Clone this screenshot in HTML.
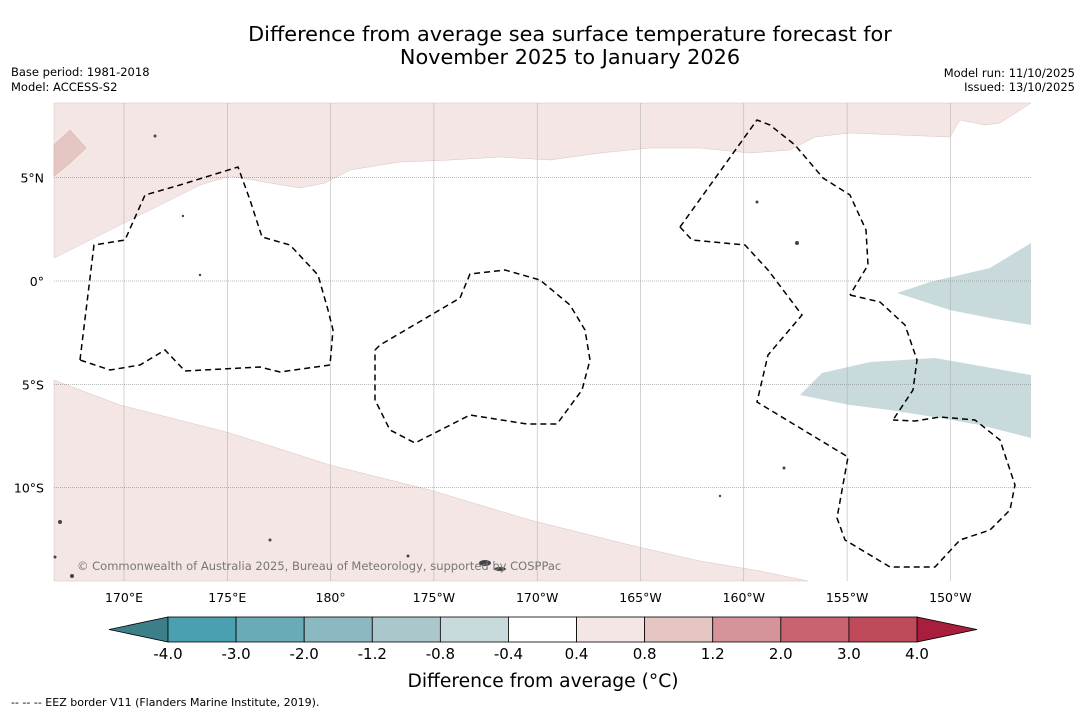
<!DOCTYPE html>
<html><head><meta charset="utf-8">
<style>
body{margin:0;background:#fff;font-family:"DejaVu Sans","Liberation Sans",sans-serif;}
#wrap{position:relative;width:1085px;height:713px;overflow:hidden;background:#fff;}
svg text{font-family:"DejaVu Sans","Liberation Sans",sans-serif;}
</style></head>
<body>
<div id="wrap">
<svg id="svg" width="1085" height="713" xmlns="http://www.w3.org/2000/svg">
<text x="570" y="41" font-size="20.8" text-anchor="middle" fill="#000">Difference from average sea surface temperature forecast for</text>
<text x="570" y="64" font-size="20.8" text-anchor="middle" fill="#000">November 2025 to January 2026</text>
<text x="11" y="76" font-size="11.5">Base period: 1981-2018</text>
<text x="11" y="91" font-size="11.5">Model: ACCESS-S2</text>
<text x="1075" y="77" font-size="11.5" text-anchor="end">Model run: 11/10/2025</text>
<text x="1075" y="91" font-size="11.5" text-anchor="end">Issued: 13/10/2025</text>

<g>
<rect x="54" y="103" width="977" height="478" fill="#fff"/>
<polygon fill="#f4e6e5" stroke="#d8c4c2" stroke-width="0.5" points="54,103 54,258 100,235 150,210 200,185 230,176 270,183 300,188 325,183 350,170 400,162 450,160 500,157 550,160 600,153 650,148 700,148 750,153 790,150 815,137 850,133 900,135 950,137 960,120 985,125 1000,123 1031,103"/>
<polygon fill="#e6c6c2" stroke="#c9a8a4" stroke-width="0.5" points="54,145 70,130 86,148 70,163 54,176"/>
<polygon fill="#f4e6e5" stroke="#d8c4c2" stroke-width="0.5" points="54,380 120,405 230,433 330,465 430,490 530,520 630,545 700,561 760,571 808,581 54,581"/>
<polygon fill="#c8dadb" points="897,293 930,282 990,268 1031,243 1031,325 990,318 950,310"/>
<polygon fill="#c8dadb" points="800,395 822,373 870,362 935,358 1031,375 1031,438 980,425 940,418 890,410 850,405"/>
</g>
<g id="grid"></g>
<g fill="none" stroke="#000" stroke-width="1.5" stroke-dasharray="6,4">
<polyline points="80,360 94,245 125,240 145,195 180,185 238,167 250,200 262,237 290,245 318,275 328,310 333,330 330,365 280,372 260,367 185,371 165,350 140,365 110,370 80,360"/>
<polyline points="375,350 380,345 460,298 470,274 505,270 540,280 570,305 585,330 590,360 582,390 557,424 527,424 470,415 415,443 390,430 375,400 375,350"/>
<polyline points="680,227 757,120 770,125 795,145 823,178 850,195 866,230 868,265 850,295"/>
<polyline points="680,227 692,240 745,245 768,270 802,315 768,355 757,402 848,457 837,518 845,540 890,567 935,567 960,540 990,530 1010,510 1015,485 1000,440 975,420 940,417 915,421 893,420"/>
<polyline points="850,295 880,302 905,325 917,360 913,390 893,420"/>
</g>
<g fill="#444">
<ellipse cx="485" cy="563" rx="6" ry="3"/><ellipse cx="500" cy="569" rx="6" ry="2"/><circle cx="60" cy="522" r="2"/><circle cx="72" cy="576" r="2"/><circle cx="55" cy="557" r="1.5"/><circle cx="797" cy="243" r="2"/><circle cx="757" cy="202" r="1.5"/><circle cx="720" cy="496" r="1.2"/><circle cx="784" cy="468" r="1.5"/><circle cx="155" cy="136" r="1.5"/><circle cx="183" cy="216" r="1.2"/><circle cx="200" cy="275" r="1.2"/><circle cx="408" cy="556" r="1.5"/><circle cx="270" cy="540" r="1.5"/>
</g>
<text x="77" y="570" font-size="11.5" fill="#777">© Commonwealth of Australia 2025, Bureau of Meteorology, supported by COSPPac</text>
<g id="colorbar"></g>
<text x="543" y="687" font-size="18.7" text-anchor="middle">Difference from average (°C)</text>
<text x="11" y="706" font-size="11">-- -- -- EEZ border V11 (Flanders Marine Institute, 2019).</text>
</svg>
</div>
<script>
const lonTicks=[170,175,180,-175,-170,-165,-160,-155,-150];
const lonLabels=["170°E","175°E","180°","175°W","170°W","165°W","160°W","155°W","150°W"];
const latTicks=[5,0,-5,-10];
const latLabels=["5°N","0°","5°S","10°S"];
const cbBounds=[-4.0,-3.0,-2.0,-1.2,-0.8,-0.4,0.4,0.8,1.2,2.0,3.0,4.0];
const cbLabels=["-4.0","-3.0","-2.0","-1.2","-0.8","-0.4","0.4","0.8","1.2","2.0","3.0","4.0"];
const cbColors=["#4aa0b0","#6aabb8","#8cb8c2","#aac8cc","#c8dadb","#ffffff","#f4e6e5","#e6c6c2","#d4949a","#c8636f","#be4a5a"];
const NS="http://www.w3.org/2000/svg";
function xLon(l){let e=l<0?l+360:l;return 124+(e-170)*103.3/5;}
function yLat(l){return 281-l*103.3/5;}
function mk(t,a,p){const e=document.createElementNS(NS,t);for(const k in a)e.setAttribute(k,a[k]);p.appendChild(e);return e;}
const g=document.getElementById('grid');
lonTicks.forEach((l,i)=>{const x=xLon(l);
 const ln=mk('line',{x1:x,x2:x,y1:103,y2:581,stroke:'#aaa','stroke-width':0.5},g);
 
 
 const t=mk('text',{x:x,y:602,'font-size':12.5,'text-anchor':'middle'},g);t.textContent=lonLabels[i];
 
 });
latTicks.forEach((l,i)=>{const y=yLat(l);
 const ln=mk('line',{x1:54,x2:1031,y1:y,y2:y,stroke:'#777','stroke-width':0.5,'stroke-dasharray':'1,1'},g);
 
 
 const t=mk('text',{x:44,y:y+5,'font-size':12.5,'text-anchor':'end'},g);t.textContent=latLabels[i];
 
 });
const cb=document.getElementById('colorbar');
const x0=168,x1=917,y0=617,h=25,n=cbColors.length,w=(x1-x0)/n;
const la=mk('polygon',{points:`109,${y0+h/2} ${x0},${y0} ${x0},${y0+h}`,fill:'#3d7f88',stroke:'#000','stroke-width':0.8},cb);


const ra=mk('polygon',{points:`977,${y0+h/2} ${x1},${y0} ${x1},${y0+h}`,fill:'#a81e3c',stroke:'#000','stroke-width':0.8},cb);


cbColors.forEach((c,i)=>{const r=mk('rect',{x:x0+i*w,y:y0,width:w,height:h,fill:c,stroke:'#000','stroke-width':0.8},cb);
 
 });
cbBounds.forEach((b,i)=>{const t=mk('text',{x:x0+i*w,y:659,'font-size':15,'text-anchor':'middle'},cb);t.textContent=cbLabels[i];
 
 });
</script>
</body></html>
